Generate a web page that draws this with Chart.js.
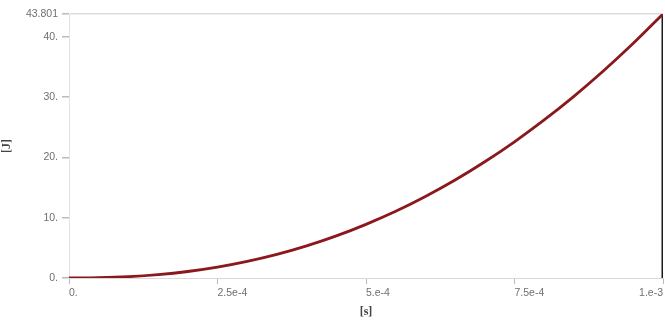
<!DOCTYPE html>
<html>
<head>
<meta charset="utf-8">
<script src="https://cdn.jsdelivr.net/npm/chart.js@4/dist/chart.umd.min.js"></script>
<style>
  html, body { margin: 0; padding: 0; background: #fff; }
  #wrap { width: 665px; height: 325px; }
</style>
</head>
<body>
<div id="wrap"><canvas id="energyChart"></canvas></div>
<script>
const timeS = [0, 0.00005, 0.0001, 0.00015, 0.0002, 0.00025, 0.0003, 0.00035, 0.0004, 0.00045,
  0.0005, 0.00055, 0.0006, 0.00065, 0.0007, 0.00075, 0.0008, 0.00085, 0.0009, 0.00095, 0.001];
const energyJ = [0, 0.05, 0.22, 0.56, 1.08, 1.80, 2.75, 3.91, 5.32, 6.98,
  8.90, 11.07, 13.53, 16.26, 19.29, 22.60, 26.22, 30.14, 34.38, 38.93, 43.801];

const xTickValues = [0, 0.00025, 0.0005, 0.00075, 0.001];
const xTickLabels = ['0.', '2.5e-4', '5.e-4', '7.5e-4', '1.e-3'];
const yTickValues = [0, 10, 20, 30, 40, 43.801];
const yTickLabels = ['0.', '10.', '20.', '30.', '40.', '43.801'];

const tickFont = { family: 'Liberation Sans', size: 10.5 };
const tickColor = '#6f6f6f';

// x labels: left-aligned on their tick, the last one right-aligned
const xLabelPlugin = {
    id: 'xLabels',
    afterDraw(chart) {
        const ctx = chart.ctx;
        const x = chart.scales.x;
        ctx.save();
        ctx.font = '10.5px "Liberation Sans"';
        ctx.fillStyle = tickColor;
        ctx.textBaseline = 'middle';
        xTickValues.forEach(function(v, i) {
            const px = x.getPixelForValue(v);
            ctx.textAlign = i === xTickValues.length - 1 ? 'right' : 'left';
            ctx.fillText(xTickLabels[i], px, x.top + 15);
        });
        ctx.restore();
    }
};

const ctx = document.getElementById('energyChart').getContext('2d');
new Chart(ctx, {
    type: 'line',
    data: {
        datasets: [{
            data: timeS.map((t, i) => ({ x: t, y: energyJ[i] })),
            borderColor: '#8a181c',
            borderWidth: 2.8,
            pointRadius: 0,
            cubicInterpolationMode: 'monotone',
            fill: false
        }, {
            // end marker
            data: [{ x: timeS[timeS.length - 1], y: 0 }, { x: timeS[timeS.length - 1], y: energyJ[energyJ.length - 1] }],
            borderColor: '#1a1a1a',
            borderWidth: 3,
            pointRadius: 0,
            fill: false
        }]
    },
    options: {
        responsive: true,
        maintainAspectRatio: false,
        animation: false,
        layout: { padding: { top: 14, right: 2 } },
        plugins: { legend: { display: false }, tooltip: { enabled: false } },
        scales: {
            x: {
                type: 'linear',
                min: 0,
                max: 0.001,
                afterBuildTicks: function(s) { s.ticks = xTickValues.map(v => ({ value: v })); },
                afterFit: function(s) { s.height = 47; },
                border: { color: '#d8d8d8', width: 1 },
                grid: { drawOnChartArea: false, tickLength: 6, color: '#bbb' },
                ticks: { display: false },
                title: {
                    display: true,
                    text: '[s]',
                    color: '#444',
                    font: { family: 'Liberation Serif', size: 12, weight: 'bold' },
                    padding: { top: 0, bottom: 6 }
                }
            },
            y: {
                min: 0,
                max: 43.801,
                afterBuildTicks: function(s) { s.ticks = yTickValues.map(v => ({ value: v })); },
                afterFit: function(s) { s.width = 69; },
                border: { color: '#e2e2e2', width: 1 },
                grid: {
                    tickLength: 7,
                    color: function(c) { return c.tick && c.tick.value === 43.801 ? '#dcdcdc' : 'rgba(0,0,0,0)'; },
                    tickColor: '#bbb',
                    lineWidth: 1.5
                },
                ticks: {
                    color: tickColor,
                    font: tickFont,
                    padding: 4,
                    autoSkip: false,
                    callback: function(v, i) { return yTickLabels[i]; }
                },
                title: {
                    display: true,
                    text: '[J]',
                    color: '#444',
                    font: { family: 'Liberation Serif', size: 12, weight: 'bold' },
                    padding: 0
                }
            }
        }
    },
    plugins: [xLabelPlugin]
});
</script>
</body>
</html>
